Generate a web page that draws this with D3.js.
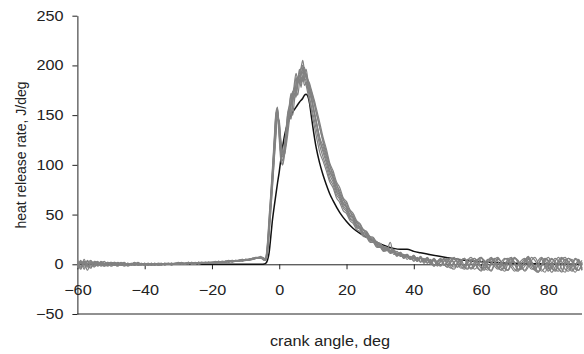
<!DOCTYPE html>
<html>
<head>
<meta charset="utf-8">
<script src="https://cdn.jsdelivr.net/npm/d3@7"></script>
<style>
  html, body { margin: 0; padding: 0; background: #fff; }
  svg { display: block; font-family: "Liberation Sans", Arial, sans-serif; }
</style>
</head>
<body>
<div id="chart"></div>
<script>
// sample positions of the measured cycles (deg)
const crankAngle = [
  -60,-59,-58,-57,-56,-55,-54,-53,-52,-51,-50,-49,-48,-47,-46,-45,-44,-43,-42,-41,
  -40,-39,-38,-37,-36,-35,-34,-33,-32,-31,-30,-29,-28,-27,-26,-25,-24,-23,-22,-21,
  -20,-19,-18,-17,-16,-15,-14,-13,-12,-11,-10,-9,-8,-7,-6,
  -5.5,-5,-4.5,-4,-3.5,-3,-2.5,-2,-1.5,-1,-0.5,0,0.5,1,1.5,2,2.5,3,3.5,4,4.5,5,5.5,6,
  6.5,7,7.5,8,8.5,9,9.5,10,10.5,11,11.5,12,
  13,14,15,16,17,18,19,20,21,22,23,24,25,26,27,28,29,30,31,32,33,34,35,36,37,38,39,40,
  41,42,43,44,45,46,47,48,49,50,51,52,53,54,55,56,57,58,59,60,61,62,63,64,65,66,67,68,
  69,70,71,72,73,74,75,76,77,78,79,80,81,82,83,84,85,86,87,88,89,90
];

// heat release rate of each measured cycle, J/deg
const cycle1 = [
  3,-4,5,-2,1,-3,2,0,-2,2, 1,-1,2,0,-2,1,0,1,-1,0, 1,-1,0,1,0,-1,1,0,1,0, 1,0,1,2,0,1,2,1,1,2, 1,2,2,2,3,2,3,3,4,3, 4,5,5,6,7,
  7,6,4,6,18,42,66,92,120,148, 157,130,110,104,118,134,150,158,170,166, 176,188,182,192,198,205,194,188,184,176, 170,161,152,144,135,126,
  113,102,90,83,73,67,59,55,47,44, 38,36,30,29,24,23,19,18,14,15, 12,13,9,11,7,8,5,9,4,7, 3,6,1,5,2,-1,4,6,0,-3,
  2,5,-2,-4,3,6,1,-4,-6,2, 5,3,-3,-6,0,5,7,1,-5,-3, 4,7,0,-5,-8,-1,5,3,-4,-6, 1,6,4,-3,-7,-2,5,-4
];
const cycle2 = [
  -3,4,-5,3,0,2,-2,1,3,-1, 0,2,-1,1,2,-1,1,0,2,0, -1,1,0,-1,1,0,0,1,-1,1, 0,1,0,1,1,0,1,2,1,2, 2,1,2,3,2,3,2,3,3,4, 4,4,5,6,6,
  6,7,5,4,12,32,56,80,106,132, 150,140,120,108,110,122,136,150,146,160, 172,168,180,186,178,190,186,192,182,178, 172,166,160,152,145,138,
  123,110,100,88,81,71,66,58,54,46, 43,37,35,29,28,23,23,18,18,14, 16,12,13,9,10,7,8,4,7,3, 6,2,5,-1,3,6,0,-3,4,7,
  1,-4,-2,5,3,-5,-2,6,4,-3, -7,0,6,2,-4,-6,3,7,1,-5, -2,5,2,-6,-8,0,6,4,-3,-7, -1,5,7,0,-6,-3,4,-5
];
const cycle3 = [
  5,-2,1,-6,3,1,-1,2,-2,0, 2,1,-1,0,1,-2,0,2,0,1, 0,-1,1,0,-1,0,1,1,0,1, 2,1,0,1,2,1,1,2,2,1, 2,2,3,2,3,3,4,3,4,4, 5,5,6,7,7,
  8,6,5,7,22,48,72,98,126,152, 158,126,104,100,116,134,152,160,172,168, 182,192,186,196,190,198,186,180,172,164, 156,147,138,129,121,113,
  104,94,83,77,67,62,54,51,44,41, 35,33,28,27,22,22,17,17,13,14, 22,10,11,8,9,5,7,3,6,2, 5,1,4,-2,2,5,-1,3,6,1,
  -3,2,6,0,-5,-2,4,7,0,-4, 2,6,3,-4,-7,1,5,2,-5,-3, 3,8,2,-4,-1,5,-3,-7,0,6, 3,-5,-8,1,5,-2,-6,2
];
const cycle4 = [
  -1,2,-3,1,4,-2,0,1,-1,1, -2,0,1,-1,0,1,-1,0,1,0, 1,0,-1,0,1,1,0,0,1,0, 1,1,0,2,1,1,2,1,2,2, 1,2,2,3,2,3,3,3,4,4, 4,5,5,6,7,
  7,6,5,5,15,38,62,86,112,140, 154,136,116,108,112,124,140,154,160,172, 178,174,186,190,184,194,188,184,178,172, 166,158,150,142,134,125,
  116,105,93,86,75,69,61,57,49,46, 39,37,31,30,25,24,20,19,15,15, 12,12,9,10,6,9,5,7,3,6, 2,5,0,4,-2,3,5,-1,-4,2,
  5,1,-3,4,7,2,-4,-6,1,5, 3,-2,-5,2,6,4,-3,-7,-1,4, 6,0,-5,-3,4,7,1,-6,-4,3, 7,2,-5,-7,0,6,3,-6
];
const cycle5 = [
  2,-5,3,0,-3,2,1,-2,0,2, -1,1,0,2,-1,0,1,-1,0,1, 0,1,0,1,-1,0,1,0,1,1, 0,1,1,0,2,1,1,2,1,2, 2,2,3,2,3,3,3,4,4,5, 4,5,6,6,7,
  7,5,4,5,16,40,64,90,118,144, 152,142,122,112,116,128,144,150,164,174, 170,182,188,184,196,200,192,190,180,174, 168,160,152,144,136,128,
  119,108,95,87,77,71,62,58,50,47, 40,38,32,31,26,25,20,20,16,16, 13,13,10,11,8,9,6,8,5,6, 4,6,2,5,1,-2,3,5,-1,2,
  6,2,-3,-5,2,6,3,-2,-5,1, 6,4,-2,-6,-3,3,6,0,-6,-4, 2,6,3,-3,-7,-2,4,7,1,-5, -7,0,5,3,-4,-8,-1,4
];
const cycle6 = [
  -4,1,3,-3,2,0,-1,3,1,-2, 1,0,-2,1,0,1,0,-1,1,0, -1,0,1,0,0,1,-1,1,0,1, 1,0,1,1,1,2,0,1,2,2, 1,2,3,2,2,3,3,4,3,4, 5,4,5,6,6,
  6,7,6,4,10,30,54,78,104,128, 146,144,124,114,110,118,130,144,152,150, 164,174,170,182,188,184,192,196,186,182, 176,170,164,157,150,143,
  128,116,102,94,83,77,67,63,55,51, 44,41,35,33,28,27,22,21,17,17, 14,15,11,12,9,10,7,9,5,8, 4,7,3,6,2,4,-1,3,6,0,
  -3,3,6,1,-4,-1,5,7,2,-4, -6,1,5,3,-3,-6,0,6,4,-2, -7,-3,4,7,1,-5,-8,0,5,3, -4,-7,2,6,3,-5,-6,1
];
const cycle7 = [
  4,-3,2,-1,-4,3,2,-1,0,1, 2,-1,0,1,1,-1,0,1,-1,0, 0,1,-1,1,0,0,1,0,1,0, 1,2,1,1,0,1,2,2,1,2, 2,3,2,2,3,4,3,3,4,5, 4,5,6,6,7,
  7,6,5,6,20,45,70,95,122,150, 156,132,110,100,108,124,140,156,150,166, 176,172,184,190,182,188,180,182,176,168, 160,152,144,136,128,120,
  108,98,86,80,70,65,57,53,46,43, 37,35,29,28,23,22,18,18,14,14, 11,12,8,10,6,8,5,6,3,6, 1,4,2,-2,3,5,0,-3,2,6,
  3,-2,-5,1,5,3,-3,-7,-1,4, 7,2,-4,-2,5,6,0,-5,-7,1, 5,3,-3,-6,0,6,4,-2,-8,-3, 4,7,0,-5,-3,5,2,-6
];
const cycle8 = [
  -2,3,-1,4,-2,-1,3,0,1,-1, 0,2,1,-1,0,1,0,1,0,-1, 1,0,1,-1,1,0,0,1,1,0, 0,1,1,2,1,0,2,1,2,1, 2,2,2,3,3,2,4,3,3,4, 5,5,5,6,7,
  7,6,5,6,14,36,60,84,110,136, 153,138,118,110,114,126,142,148,160,170, 166,180,188,182,192,196,198,188,186,180, 174,168,161,153,146,138,
  125,113,99,91,80,74,65,61,53,49, 42,40,34,32,27,26,21,21,17,17, 13,14,10,12,8,10,6,8,4,7, 3,6,1,4,-1,3,6,2,-3,-5,
  1,4,6,0,-4,2,5,3,-3,-6, 0,5,7,1,-4,-6,2,6,3,-3, -6,0,7,4,-2,-7,-3,3,6,1, -5,-8,2,6,3,-4,-6,2
];

// model prediction (black line)
const modelAngle = [
  -60,-10,-6,-5,-4.5,-4,-3.5,-3,-2.5,-2, -1.5,-1,-0.5,0,0.5,1,1.5,2,3,4,
  5,6,7,7.5,8,8.5,9,9.5,10,11, 12,13,14,15,16,18,20,22,24,26,
  28,30,32,34,36,37,38,40,42,45, 50,55,60,65,70,80,90
];
const modelRate = [
  0,0,0,0,0.3,1,4,12,28,45, 58,70,82,93,106,118,128,136,146,153,
  158,163,167,170,171,169,162,150,138,117, 102,90,80,71,64,52,43,36,31,27,
  23.5,20.5,18,16,15,15,15.2,13,11.5,9.5, 6.5,4,2.5,1.5,1,0.4,0
];

const xTicks = [-60, -40, -20, 0, 20, 40, 60, 80];
const yTicks = [-50, 0, 50, 100, 150, 200, 250];

const cycles = [cycle1, cycle2, cycle3, cycle4, cycle5, cycle6, cycle7, cycle8];

const width = 584;
const height = 354;
const stretch = 1.16; // text in the reference is drawn a little wide

const svg = d3.select('#chart')
  .append('svg')
  .attr('width', width)
  .attr('height', height);

const x = d3.scaleLinear().domain([-60, 90]).range([77.4, 582]);
const y = d3.scaleLinear().domain([-50, 250]).range([314, 15.7]);

// axes
const yAxis = svg.append('g')
  .attr('transform', `translate(${x(-60)},0)`)
  .call(d3.axisLeft(y).tickValues(yTicks).tickSize(5).tickSizeOuter(0));

const xAxis = svg.append('g')
  .attr('transform', `translate(0,${y(0)})`)
  .call(d3.axisBottom(x).tickValues(xTicks).tickSize(5).tickSizeOuter(0));

[xAxis, yAxis].forEach((g) => {
  g.attr('font-size', 14).attr('font-family', null).attr('color', '#222');
  g.selectAll('path, line').attr('stroke-width', 1);
});

yAxis.selectAll('text')
  .attr('x', -12)
  .attr('transform', `scale(${stretch},1)`);

xAxis.selectAll('text')
  .attr('y', 20.7)
  .attr('transform', `scale(${stretch},1)`);

svg.append('line')
  .attr('x1', x(-60))
  .attr('x2', x(90))
  .attr('y1', y(-50))
  .attr('y2', y(-50))
  .attr('stroke', '#222')
  .attr('stroke-width', 1);

// titles
svg.append('text')
  .attr('transform', 'translate(25.5,155) rotate(-90)')
  .attr('text-anchor', 'middle')
  .attr('font-size', 14)
  .attr('fill', '#222')
  .text('heat release rate, J/deg');

svg.append('text')
  .attr('transform', `translate(330,346) scale(${stretch},1)`)
  .attr('text-anchor', 'middle')
  .attr('font-size', 14)
  .attr('fill', '#222')
  .text('crank angle, deg');

// curves
const line = d3.line()
  .x((d) => x(d[0]))
  .y((d) => y(d[1]))
  .curve(d3.curveMonotoneX);

svg.append('path')
  .datum(d3.zip(modelAngle, modelRate))
  .attr('d', line)
  .attr('fill', 'none')
  .attr('stroke', '#111')
  .attr('stroke-width', 1.5);

cycles.forEach((c) => {
  if (c.length !== crankAngle.length) console.error('cycle length', c.length);
  svg.append('path')
    .datum(d3.zip(crankAngle, c))
    .attr('d', line)
    .attr('fill', 'none')
    .attr('stroke', '#828282')
    .attr('stroke-width', 1.2);
});
</script>
</body>
</html>
